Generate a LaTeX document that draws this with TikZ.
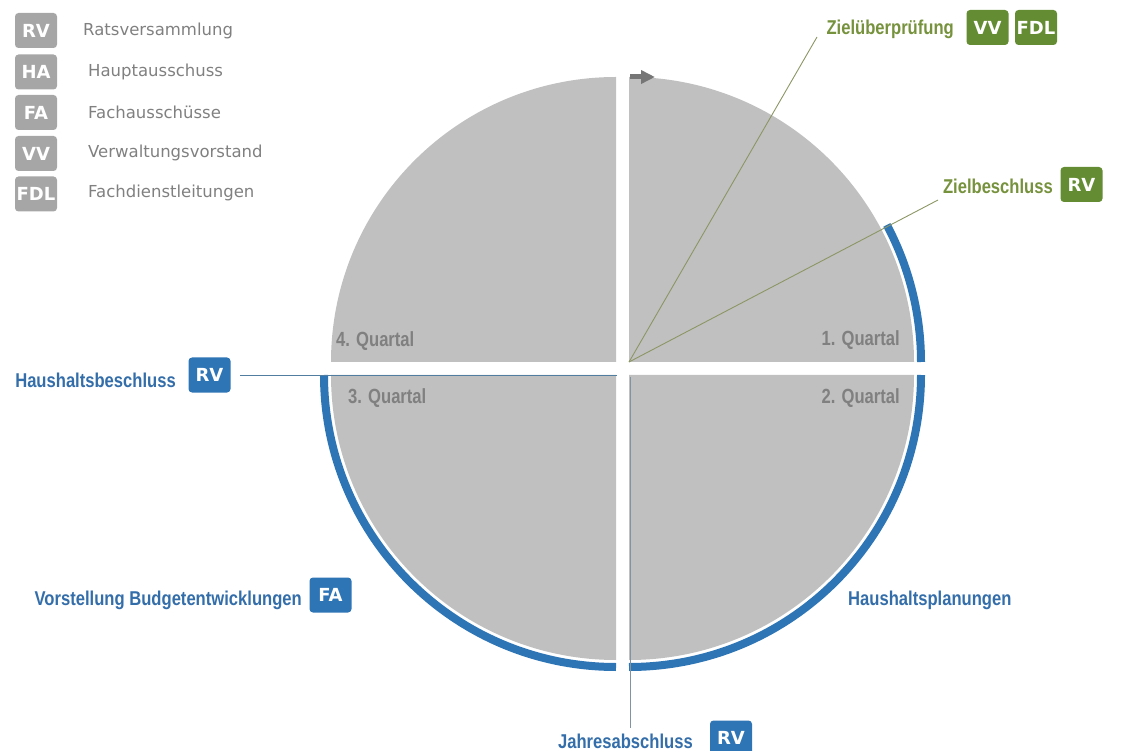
\documentclass[tikz,border=0pt]{standalone}
\usepackage{fontspec}
\setmainfont{Liberation Sans}
\newfontfamily\legfont{DejaVu Sans}
\newfontfamily\narrowfont[FakeStretch=0.83]{Liberation Sans}
\newfontfamily\qfont[FakeStretch=0.81]{Liberation Sans}
\usetikzlibrary{arrows.meta}
\definecolor{quadgray}{RGB}{192,192,192}
\definecolor{leggray}{RGB}{166,166,166}
\definecolor{legtext}{RGB}{128,128,128}
\definecolor{qtext}{RGB}{128,128,128}
\definecolor{arrgray}{RGB}{118,118,118}
\definecolor{zgreen}{RGB}{100,140,50}
\definecolor{zgreentxt}{RGB}{118,146,60}
\definecolor{zblue}{RGB}{46,117,182}
\definecolor{zbluetxt}{RGB}{52,110,170}
\definecolor{glinec}{RGB}{140,150,100}
\definecolor{blinec}{RGB}{80,125,160}
\definecolor{jlinec}{RGB}{125,150,160}
\tikzset{
  badge/.style={rounded corners=3.5pt, minimum width=42pt, minimum height=35pt, inner sep=0pt,
    text=white, font=\legfont\bfseries\fontsize{18}{18}\selectfont},
  legbadge/.style={badge, fill=leggray},
  gbadge/.style={badge, fill=zgreen},
  bbadge/.style={badge, fill=zblue},
  legtxt/.style={anchor=west, inner sep=0pt, text=legtext, font=\legfont\fontsize{16.5}{18}\selectfont},
  gtxt/.style={inner sep=0pt, text=zgreentxt, font=\narrowfont\bfseries\fontsize{20}{22}\selectfont},
  btxt/.style={inner sep=0pt, text=zbluetxt, font=\narrowfont\bfseries\fontsize{20}{22}\selectfont},
  qtxt/.style={inner sep=0pt, text=qtext, font=\qfont\bfseries\fontsize{20.5}{23}\selectfont},
  quad/.style={fill=quadgray},
  ring/.style={draw=zblue, line width=8pt},
  gline/.style={draw=glinec, line width=0.9pt},
  bline/.style={draw=blinec, line width=1pt},
  jline/.style={draw=jlinec, line width=1pt},
}
\begin{document}
\begin{tikzpicture}[x=1pt,y=-1pt]
\useasboundingbox (0,0) rectangle (1125,751);
% quadrant corners
\coordinate (c1) at (629,362);
\coordinate (c2) at (629,375);
\coordinate (c3) at (616,375);
\coordinate (c4) at (616,362);
% quadrants
\fill[quad] (c1) -- ++(285,0) arc[start angle=0, end angle=-90, radius=285] -- cycle;
\fill[quad] (c2) -- ++(285,0) arc[start angle=0, end angle=90, radius=285] -- cycle;
\fill[quad] (c3) -- ++(0,285) arc[start angle=90, end angle=180, radius=285] -- cycle;
\fill[quad] (c4) -- ++(-285,0) arc[start angle=180, end angle=270, radius=285] -- cycle;
% blue ring
\draw[ring] (c1) ++(292,0) arc[start angle=0, end angle=-28, radius=292];
\draw[ring] (c2) ++(292,0) arc[start angle=0, end angle=90, radius=292];
\draw[ring] (c3) ++(0,292) arc[start angle=90, end angle=180, radius=292];
% direction arrow
\coordinate (arrS) at (630,77);
\coordinate (arrE) at (655,77);
\draw[draw=arrgray, line width=5pt, -{Triangle[length=14pt,width=13pt]}] (arrS) -- (arrE);
% quarter labels
\node[qtxt, anchor=east] (q1) at (900,340) {1. Quartal};
\node[qtxt, anchor=east] (q2) at (900,398) {2. Quartal};
\node[qtxt, anchor=west] (q3) at (348,398) {3. Quartal};
\node[qtxt, anchor=west] (q4) at (336,341) {4. Quartal};
% legend
\node[legbadge] (lrv) at (36,30.5) {RV};
\node[legbadge] (lha) at (36,72) {HA};
\node[legbadge] (lfa) at (36,112.5) {FA};
\node[legbadge] (lvv) at (36,153.5) {VV};
\node[legbadge] (lfdl) at (36,194) {FDL};
\node[legtxt] (trv) at (83,31) {Ratsversammlung};
\node[legtxt] (tha) at (88,72) {Hauptausschuss};
\node[legtxt] (tfa) at (88,112) {Fachausschüsse};
\node[legtxt] (tvv) at (88,153) {Verwaltungsvorstand};
\node[legtxt] (tfdl) at (88,193) {Fachdienstleitungen};
% Zielueberpruefung
\node[gbadge] (zuvv) at (987.5,27.5) {VV};
\node[gbadge] (zufdl) at (1036,27.5) {FDL};
\node[gtxt, anchor=east] (zu) at (954,29) {Zielüberprüfung};
\coordinate (zuEnd) at (817,37);
\draw[gline] (c1) -- (zuEnd);
% Zielbeschluss
\node[gbadge] (zbrv) at (1081.5,184.5) {RV};
\node[gtxt, anchor=east] (zb) at (1053,186) {Zielbeschluss};
\coordinate (zbEnd) at (938,200);
\draw[gline] (c1) -- (zbEnd);
% Haushaltsbeschluss
\node[bbadge] (hbrv) at (209.5,375) {RV};
\node[btxt, anchor=east] (hb) at (176,380) {Haushaltsbeschluss};
\coordinate (hbS) at (240,376);
\coordinate (hbE) at (617,376);
\draw[bline] (hbS) -- (hbE);
% Vorstellung Budgetentwicklungen
\node[bbadge] (vbfa) at (330.5,595) {FA};
\node[btxt, anchor=east] (vb) at (302,600) {Vorstellung Budgetentwicklungen};
% Haushaltsplanungen
\node[btxt, anchor=west] (hp) at (848,600) {Haushaltsplanungen};
% Jahresabschluss
\node[bbadge] (jarv) at (731,738) {RV};
\node[btxt, anchor=east] (ja) at (693,741) {Jahresabschluss};
\coordinate (jaS) at (630,377);
\coordinate (jaE) at (630,728);
\draw[jline] (jaS) -- (jaE);
\end{tikzpicture}
\end{document}
